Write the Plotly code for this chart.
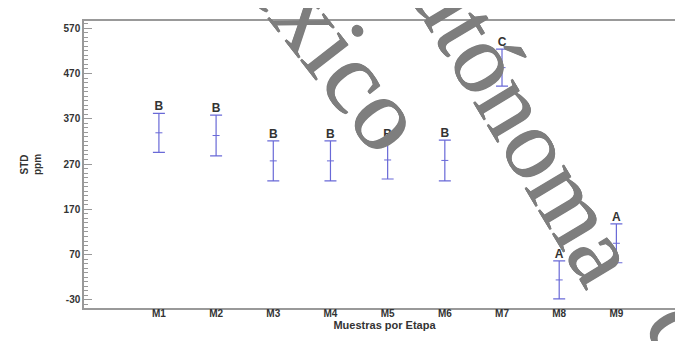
import plotly.graph_objects as go

# ---- data ----
categories = ["M1", "M2", "M3", "M4", "M5", "M6", "M7", "M8", "M9"]
means = [339, 333, 277, 277, 279, 278, 483, 14, 95]
half_intervals = [43, 45, 44, 44, 42, 45, 41, 42, 43]
groups = ["B", "B", "B", "B", "B", "B", "C", "A", "A"]
y_ticks = [-30, 70, 170, 270, 370, 470, 570]

W, H = 683, 341
ML, MR, MT, MB = 76, 6, 13, 41
PW, PH = W - ML - MR, H - MT - MB

xidx = list(range(len(categories)))
bar_color = "rgb(105,105,215)"

fig = go.Figure()
fig.add_trace(go.Scatter(
    x=xidx, y=means, mode="markers",
    marker=dict(symbol="line-ew", size=5, line=dict(color=bar_color, width=1), color=bar_color),
    error_y=dict(type="data", array=half_intervals, visible=True,
                 color=bar_color, thickness=1.2, width=6),
    showlegend=False, hoverinfo="skip",
))
tops = [m + h for m, h in zip(means, half_intervals)]
fig.add_trace(go.Scatter(
    x=xidx, y=tops, mode="text", text=groups, textposition="top center",
    textfont=dict(family="Liberation Sans", size=12, color="#333333", weight="bold"),
    showlegend=False, hoverinfo="skip",
))

def px2paper(px, py):
    return (px - ML) / PW, (H - MB - py) / PH

wm_rgb = "#7e7e7e"
wm_shadow = f"0.6px 0 0 {wm_rgb}, -0.6px 0 0 {wm_rgb}"
wm_font = dict(family="Liberation Serif", size=100, color=wm_rgb, shadow=wm_shadow)
ax1, ay1 = px2paper(499, 85)
ax3, ay3 = px2paper(688, 340)
ax2, ay2 = px2paper(300, 4)
annotations = [
    dict(text="Autónoma", x=ax1, y=ay1, xref="paper", yref="paper",
         xanchor="center", yanchor="middle", textangle=59, showarrow=False,
         font=wm_font),
    dict(text="de", x=ax3, y=ay3, xref="paper", yref="paper",
         xanchor="center", yanchor="middle", textangle=59, showarrow=False,
         font=wm_font),
    dict(text="México", x=ax2, y=ay2, xref="paper", yref="paper",
         xanchor="center", yanchor="middle", textangle=52, showarrow=False,
         font=dict(family="Liberation Serif", size=104, color=wm_rgb, shadow=wm_shadow)),
]

axis_color = "#999999"
fig.update_layout(
    width=W, height=H,
    margin=dict(l=ML, r=MR, t=MT, b=MB, autoexpand=False),
    paper_bgcolor="white", plot_bgcolor="white",
    font=dict(family="Liberation Sans", color="#333333"),
    annotations=annotations,
    xaxis=dict(
        range=[-1.31, 9.2], tickmode="array", tickvals=xidx, ticktext=categories,
        showgrid=False, zeroline=False, showline=True, linecolor=axis_color, linewidth=1.5,
        mirror=True, ticks="", ticklabelstandoff=-5,
        tickfont=dict(size=10, color="#333333", weight="bold"),
        title=dict(text="Muestras por Etapa", standoff=0,
                   font=dict(size=11, color="#333333", weight="bold")),
    ),
    yaxis=dict(
        range=[-48, 586], tickmode="array", tickvals=y_ticks,
        ticktext=[str(v) for v in y_ticks],
        showgrid=False, zeroline=False, showline=True, linecolor=axis_color, linewidth=1.5,
        mirror="ticks", ticks="inside", ticklen=8, tickcolor=axis_color, tickwidth=1,
        minor=dict(dtick=10, tick0=-30, ticks="inside", ticklen=4, tickcolor=axis_color),
        tickfont=dict(size=10, color="#333333", weight="bold"),
        title=dict(text="STD<br>ppm", standoff=20,
                   font=dict(size=10, color="#333333", weight="bold")),
    ),
)

fig.write_html("out.html")
